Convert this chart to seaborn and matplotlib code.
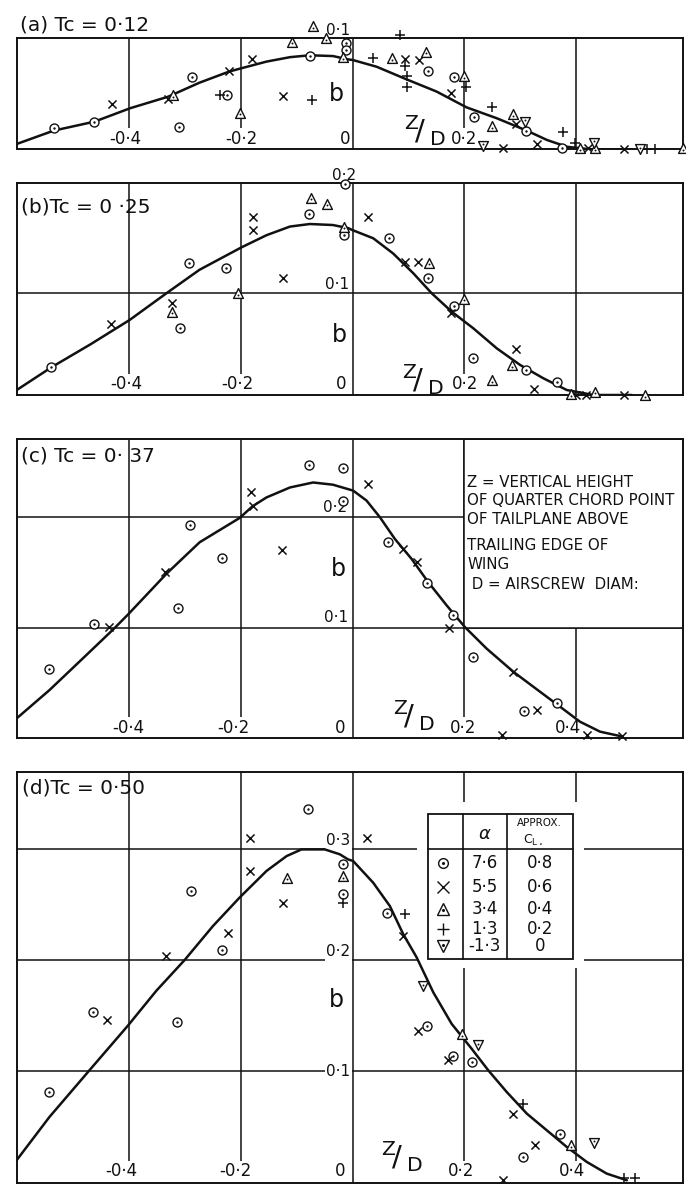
import matplotlib
matplotlib.use("Agg")
import matplotlib.pyplot as plt
import seaborn as sns
from matplotlib.patches import Rectangle

sns.set_style("white")
plt.rcParams["font.family"] = ["DejaVu Sans"]
plt.rcParams["mathtext.fontset"] = "dejavusans"

# ---------------- data ----------------
panel_titles = ["(a) Tc = 0·12", "(b)Tc = 0 ·25", "(c) Tc = 0· 37", "(d)Tc = 0·50"]
x_grid = [-0.4, -0.2, 0.0, 0.2, 0.4]
y_grids = [[], [0.1], [0.1, 0.2], [0.1, 0.2, 0.3]]
y_tops = [0.1, 0.208, 0.27, 0.37]

# panel (a)
a_circle_x = [-0.535, -0.462, -0.287, -0.310, -0.224, -0.0765, -0.011, -0.0125, 0.1355, 0.182, 0.218, 0.310, 0.3745]
a_circle_y = [0.0189, 0.0249, 0.0654, 0.0198, 0.049, 0.084, 0.0955, 0.0895, 0.0705, 0.0649, 0.0288, 0.0168, 0.001]
a_cross_x = [-0.430, -0.330, -0.221, -0.180, -0.125, 0.094, 0.119, 0.176, 0.292, 0.270, 0.330, 0.422, 0.485]
a_cross_y = [0.0408, 0.045, 0.0708, 0.0814, 0.048, 0.081, 0.0805, 0.0505, 0.0228, 0.001, 0.0048, 0.001, 0.0]
a_tri_x = [-0.321, -0.201, -0.1075, -0.0706, -0.0466, -0.017, 0.070, 0.131, 0.1995, 0.250, 0.287, 0.407, 0.434, 0.592]
a_tri_y = [0.049, 0.033, 0.097, 0.111, 0.100, 0.083, 0.082, 0.088, 0.066, 0.021, 0.0318, 0.001, 0.001, 0.001]
a_plus_x = [-0.238, -0.0717, 0.0848, 0.037, 0.094, 0.0967, 0.0967, 0.203, 0.249, 0.376, 0.398, 0.527, 0.542]
a_plus_y = [0.049, 0.0444, 0.103, 0.082, 0.075, 0.066, 0.0564, 0.0559, 0.0378, 0.0159, 0.006, 0.0, 0.0]
a_dtri_x = [0.309, 0.234, 0.432, 0.515]
a_dtri_y = [0.0249, 0.0032, 0.006, 0.0]
curve_a_x = [-0.601, -0.535, -0.462, -0.398, -0.330, -0.274, -0.221, -0.199, -0.154, -0.112, -0.0765, -0.035,
             -0.008, 0.0, 0.043, 0.0968, 0.1505, 0.204, 0.258, 0.312, 0.348, 0.3835, 0.425, 0.50]
curve_a_y = [0.0048, 0.0168, 0.0249, 0.037, 0.0474, 0.060, 0.070, 0.073, 0.079, 0.083, 0.0847, 0.084,
             0.081, 0.0805, 0.0744, 0.063, 0.052, 0.0378, 0.028, 0.0168, 0.0084, 0.0023, 0.0, 0.0]

# panel (b)
b_circle_x = [-0.539, -0.3095, -0.293, -0.227, -0.078, -0.0138, -0.015, 0.0656, 0.1355, 0.1815, 0.215, 0.310, 0.3656]
b_circle_y = [0.0272, 0.0656, 0.1295, 0.1246, 0.1777, 0.207, 0.157, 0.154, 0.1147, 0.0878, 0.036, 0.0246, 0.0131]
b_cross_x = [-0.432, -0.324, -0.179, -0.179, -0.124, 0.028, 0.0937, 0.1165, 0.176, 0.2927, 0.325, 0.40, 0.418, 0.485]
b_cross_y = [0.0698, 0.0908, 0.1747, 0.162, 0.1147, 0.1747, 0.131, 0.131, 0.0803, 0.0449, 0.0059, 0.0, 0.0, 0.0]
b_tri_x = [-0.324, -0.205, -0.0735, -0.0455, -0.015, 0.137, 0.1995, 0.286, 0.250, 0.434, 0.391, 0.524]
b_tri_y = [0.0819, 0.100, 0.194, 0.1878, 0.1655, 0.130, 0.0944, 0.0295, 0.0147, 0.0033, 0.001, 0.0]
curve_b_x = [-0.601, -0.539, -0.469, -0.399, -0.333, -0.274, -0.199, -0.154, -0.112, -0.0765, -0.035, -0.008, 0.0,
             0.037, 0.0728, 0.1086, 0.1416, 0.1774, 0.216, 0.258, 0.300, 0.3416, 0.3835, 0.431, 0.50]
curve_b_y = [0.0049, 0.0272, 0.0498, 0.0737, 0.100, 0.123, 0.145, 0.157, 0.1655, 0.168, 0.167, 0.164, 0.162,
             0.154, 0.139, 0.1197, 0.100, 0.0819, 0.0656, 0.0459, 0.0295, 0.0164, 0.0049, 0.0, 0.0]

# panel (c)
c_circle_x = [-0.5425, -0.4636, -0.3125, -0.2916, -0.233, -0.0778, -0.0168, -0.0168, 0.0638, 0.1337, 0.180, 0.215, 0.307, 0.3667]
c_circle_y = [0.063, 0.1036, 0.118, 0.1928, 0.1627, 0.2468, 0.244, 0.2147, 0.177, 0.140, 0.1117, 0.073, 0.0249, 0.0315]
c_cross_x = [-0.435, -0.335, -0.181, -0.179, -0.1255, 0.028, 0.0896, 0.1158, 0.173, 0.2867, 0.331, 0.268, 0.419, 0.482]
c_cross_y = [0.1005, 0.150, 0.222, 0.210, 0.170, 0.230, 0.171, 0.159, 0.100, 0.060, 0.0255, 0.003, 0.003, 0.002]
curve_c_x = [-0.6034, -0.5425, -0.483, -0.429, -0.402, -0.333, -0.2737, -0.202, -0.179, -0.154, -0.112, -0.0706,
             -0.035, -0.008, 0.001, 0.025, 0.049, 0.0758, 0.1057, 0.1355, 0.1685, 0.201, 0.240, 0.288, 0.3357,
             0.3715, 0.407, 0.443, 0.479]
curve_c_y = [0.017, 0.0435, 0.072, 0.098, 0.1117, 0.1486, 0.177, 0.199, 0.2095, 0.2175, 0.2265, 0.231,
             0.229, 0.225, 0.2237, 0.2147, 0.1996, 0.180, 0.162, 0.141, 0.120, 0.1005, 0.081, 0.060, 0.042,
             0.0285, 0.015, 0.006, 0.002]
note_lines = ["Z = VERTICAL HEIGHT", "OF QUARTER CHORD POINT", "OF TAILPLANE ABOVE",
              "TRAILING EDGE OF", "WING", " D = AIRSCREW  DIAM:"]

# panel (d)
d_circle_x = [-0.5425, -0.465, -0.314, -0.233, -0.290, -0.0796, -0.0168, -0.0168, 0.061, 0.1337, 0.180, 0.2143, 0.3715, 0.3057]
d_circle_y = [0.0815, 0.154, 0.145, 0.2096, 0.2626, 0.3367, 0.2866, 0.2597, 0.243, 0.1413, 0.1135, 0.1084, 0.044, 0.023]
d_cross_x = [-0.440, -0.333, -0.223, -0.184, -0.183, -0.125, 0.026, 0.0896, 0.1176, 0.1713, 0.2867, 0.3267, 0.270]
d_cross_y = [0.146, 0.204, 0.225, 0.2806, 0.310, 0.2516, 0.3106, 0.222, 0.1368, 0.110, 0.062, 0.0335, 0.002]
d_tri_x = [-0.117, -0.0168, 0.1953, 0.3907]
d_tri_y = [0.2747, 0.276, 0.1339, 0.0335]
d_plus_x = [-0.0168, 0.0937, 0.3047, 0.485, 0.506]
d_plus_y = [0.252, 0.2417, 0.071, 0.004, 0.004]
d_dtri_x = [0.1254, 0.225, 0.4325]
d_dtri_y = [0.1767, 0.1234, 0.036]
curve_d_x = [-0.6034, -0.5425, -0.471, -0.402, -0.351, -0.3005, -0.2498, -0.202, -0.154, -0.118, -0.0914, -0.0496,
             -0.0228, -0.008, 0.001, 0.037, 0.0668, 0.0907, 0.1147, 0.1445, 0.1774, 0.2133, 0.243, 0.276, 0.312,
             0.3477, 0.3835, 0.419, 0.455, 0.491]
curve_d_y = [0.0186, 0.059, 0.101, 0.1413, 0.1728, 0.2004, 0.231, 0.2567, 0.2806, 0.294, 0.300, 0.300,
             0.2956, 0.291, 0.2896, 0.270, 0.249, 0.2237, 0.2028, 0.1713, 0.1429, 0.1204, 0.101, 0.0815, 0.062,
             0.047, 0.032, 0.0186, 0.008, 0.002]

# legend table
legend_alpha = ["7·6", "5·5", "3·4", "1·3", "-1·3"]
legend_cl = ["0·8", "0·6", "0·4", "0·2", "0"]

# ---------------- layout ----------------
W, H = 686, 1184
fig = plt.figure(figsize=(W / 100, H / 100), dpi=100)
left = 17.3 / W
width = (683.3 - 17.3) / W
boxes = [(38.3, 149.3), (183.3, 395.0), (439.3, 738.3), (771.7, 1182.5)]
XLIM = (-0.6, 0.592)
axes = []
for (top, bot) in boxes:
    ax = fig.add_axes([left, 1 - bot / H, width, (bot - top) / H])
    axes.append(ax)

INK = "#111111"
ZD = r"${}^{\mathrm{Z}}\!/\,{}_{\mathrm{D}}$"


def style_axes(ax, ytop, ygrid):
    ax.set_xlim(*XLIM)
    ax.set_ylim(0, ytop)
    ax.set_xticks(x_grid)
    ax.set_yticks(ygrid)
    ax.set_axisbelow(True)
    ax.grid(True, color=INK, lw=1.1)
    ax.tick_params(length=0, labelbottom=False, labelleft=False)
    for s in ax.spines.values():
        s.set_visible(True)
        s.set_color(INK)
        s.set_linewidth(1.4)
    ax.set_xlabel("")
    ax.set_ylabel("")


def markers(ax, cx=None, cy=None, xx=None, xy=None, tx=None, ty=None,
            px=None, py=None, vx=None, vy=None):
    kw = dict(ax=ax, clip_on=False, zorder=4, legend=False)
    if cx:
        sns.scatterplot(x=cx, y=cy, marker="o", s=42, facecolor="white", edgecolor=INK, linewidth=1.0, **kw)
        sns.scatterplot(x=cx, y=cy, marker="o", s=3, color=INK, linewidth=0, **kw)
    if xx:
        sns.scatterplot(x=xx, y=xy, marker="x", s=34, color=INK, linewidth=1.1, **kw)
    if tx:
        sns.scatterplot(x=tx, y=ty, marker="^", s=50, facecolor="white", edgecolor=INK, linewidth=1.0, **kw)
        sns.scatterplot(x=tx, y=[v - 0.0015 for v in ty], marker="o", s=2, color=INK, linewidth=0, **kw)
    if px:
        sns.scatterplot(x=px, y=py, marker="+", s=55, color=INK, linewidth=1.1, **kw)
    if vx:
        sns.scatterplot(x=vx, y=vy, marker="v", s=50, facecolor="white", edgecolor=INK, linewidth=1.0, **kw)
        sns.scatterplot(x=vx, y=[v + 0.0015 for v in vy], marker="o", s=2, color=INK, linewidth=0, **kw)


def curve(ax, x, y):
    sns.lineplot(x=x, y=y, ax=ax, sort=False, estimator=None, color=INK, lw=1.8, zorder=3)


def lab(ax, x, y, s, size=12, ha="center", va="center", white=True, **k):
    bb = dict(fc="white", ec="none", pad=1.0) if white else None
    ax.text(x, y, s, fontsize=size, ha=ha, va=va, color=INK, bbox=bb, zorder=2.5, **k)


# ---------- panel (a) ----------
ax = axes[0]
style_axes(ax, y_tops[0], y_grids[0])
curve(ax, curve_a_x, curve_a_y)
markers(ax, a_circle_x, a_circle_y, a_cross_x, a_cross_y, a_tri_x, a_tri_y,
        a_plus_x, a_plus_y, a_dtri_x, a_dtri_y)
ax.text(-0.596, 0.112, panel_titles[0], fontsize=14.5, ha="left", va="center", color=INK)
for xp, s in zip([-0.406, -0.199, -0.0138, 0.1994], ["-0·4", "-0·2", "0", "0·2"]):
    lab(ax, xp, 0.0015, s, va="bottom")
lab(ax, -0.004, 0.1005, "0·1", size=11, ha="right", va="bottom", white=False)
lab(ax, -0.029, 0.050, "b", size=17, white=False)
lab(ax, 0.130, 0.0165, ZD, size=21, white=False)

# ---------- panel (b) ----------
ax = axes[1]
style_axes(ax, y_tops[1], y_grids[1])
curve(ax, curve_b_x, curve_b_y)
markers(ax, b_circle_x, b_circle_y, b_cross_x, b_cross_y, b_tri_x, b_tri_y)
ax.text(-0.593, 0.185, panel_titles[1], fontsize=14.5, ha="left", va="center", color=INK)
for xp, s in zip([-0.404, -0.207, -0.02, 0.201], ["-0·4", "-0·2", "0", "0·2"]):
    lab(ax, xp, 0.0015, s, va="bottom")
lab(ax, -0.006, 0.101, "0·1", size=11, ha="right", va="bottom", white=False)
lab(ax, 0.006, 0.2085, "0·2", size=11, ha="right", va="bottom", white=False)
lab(ax, -0.023, 0.059, "b", size=17, white=False)
lab(ax, 0.125, 0.0155, ZD, size=21, white=False)

# ---------- panel (c) ----------
ax = axes[2]
style_axes(ax, y_tops[2], y_grids[2])
ax.add_patch(Rectangle((0.2, 0.1), XLIM[1] - 0.2, y_tops[2] - 0.1, fc="white", ec=INK, lw=1.1, zorder=1))
curve(ax, curve_c_x, curve_c_y)
markers(ax, c_circle_x, c_circle_y, c_cross_x, c_cross_y)
ax.text(-0.593, 0.255, panel_titles[2], fontsize=14.5, ha="left", va="center", color=INK)
for xp, s in zip([-0.4016, -0.2126, -0.0228, 0.1985, 0.3857], ["-0·4", "-0·2", "0", "0·2", "0·4"]):
    lab(ax, xp, 0.0015, s, va="bottom")
lab(ax, -0.01, 0.2015, "0·2", size=11, ha="right", va="bottom", white=False)
lab(ax, -0.008, 0.1025, "0·1", size=11, ha="right", va="bottom", white=False)
lab(ax, -0.026, 0.153, "b", size=17, white=False)
lab(ax, 0.110, 0.0205, ZD, size=21, white=False)
for yy, s in zip([0.231, 0.2145, 0.198, 0.174, 0.157, 0.139], note_lines):
    ax.text(0.205, yy, s, fontsize=10.8, ha="left", va="center", color=INK, zorder=5)

# ---------- panel (d) ----------
ax = axes[3]
style_axes(ax, y_tops[3], y_grids[3])
ax.add_patch(Rectangle((0.115, 0.193), 0.30, 0.15, fc="white", ec="none", zorder=1))
curve(ax, curve_d_x, curve_d_y)
markers(ax, d_circle_x, d_circle_y, d_cross_x, d_cross_y, d_tri_x, d_tri_y,
        d_plus_x, d_plus_y, d_dtri_x, d_dtri_y)
ax.text(-0.591, 0.3555, panel_titles[3], fontsize=14.5, ha="left", va="center", color=INK)
for xp, s in zip([-0.413, -0.209, -0.0228, 0.195, 0.392], ["-0·4", "-0·2", "0", "0·2", "0·4"]):
    lab(ax, xp, 0.002, s, va="bottom")
for yv, s in zip([0.301, 0.201], ["0·3", "0·2"]):
    lab(ax, -0.004, yv, s, size=11, ha="right", va="bottom")
lab(ax, -0.004, 0.1, "0·1", size=11, ha="right", va="center")
lab(ax, -0.029, 0.164, "b", size=17, white=False)
lab(ax, 0.088, 0.0235, ZD, size=21, white=False)

# legend table
tl, tr, tb, tt, th = 0.1355, 0.394, 0.2013, 0.3316, 0.3007
c1, c2 = 0.197, 0.276
ax.add_patch(Rectangle((tl, tb), tr - tl, tt - tb, fc="white", ec=INK, lw=1.3, zorder=5))
ax.plot([c1, c1], [tb, tt], color=INK, lw=1.2, zorder=6)
ax.plot([c2, c2], [tb, tt], color=INK, lw=1.2, zorder=6)
ax.plot([tl, tr], [th, th], color=INK, lw=1.2, zorder=6)
ax.text((c1 + c2) / 2, 0.3135, r"$\alpha$", fontsize=13, ha="center", va="center", color=INK, zorder=7)
ax.text((c2 + tr) / 2, 0.3235, "APPROX.", fontsize=7.5, ha="center", va="center", color=INK, zorder=7)
ax.text((c2 + tr) / 2 - 0.012, 0.3085, r"C$_{\mathrm{L}_\circ}$", fontsize=9, ha="center", va="center",
        color=INK, zorder=7)
row_y = [0.2875, 0.2665, 0.2465, 0.2285, 0.2127]
mk = [("o", "white"), ("x", INK), ("^", "white"), ("+", INK), ("v", "white")]
for yv, (m, fcol), a, c in zip(row_y, mk, legend_alpha, legend_cl):
    ax.plot([0.1624], [yv], marker=m, ms=7 if m == "o" else (8 if m in "x+" else 8.5), mfc=fcol, mec=INK,
            mew=1.0, ls="none", zorder=7)
    if fcol == "white":
        ax.plot([0.1624], [yv - (0.0012 if m == "^" else -0.0012 if m == "v" else 0)], marker="o",
                ms=1.2, color=INK, ls="none", zorder=8)
    ax.text((c1 + c2) / 2, yv, a, fontsize=12, ha="center", va="center", color=INK, zorder=7)
    ax.text((c2 + tr) / 2, yv, c, fontsize=12, ha="center", va="center", color=INK, zorder=7)

fig.savefig("out.png", dpi=100)
